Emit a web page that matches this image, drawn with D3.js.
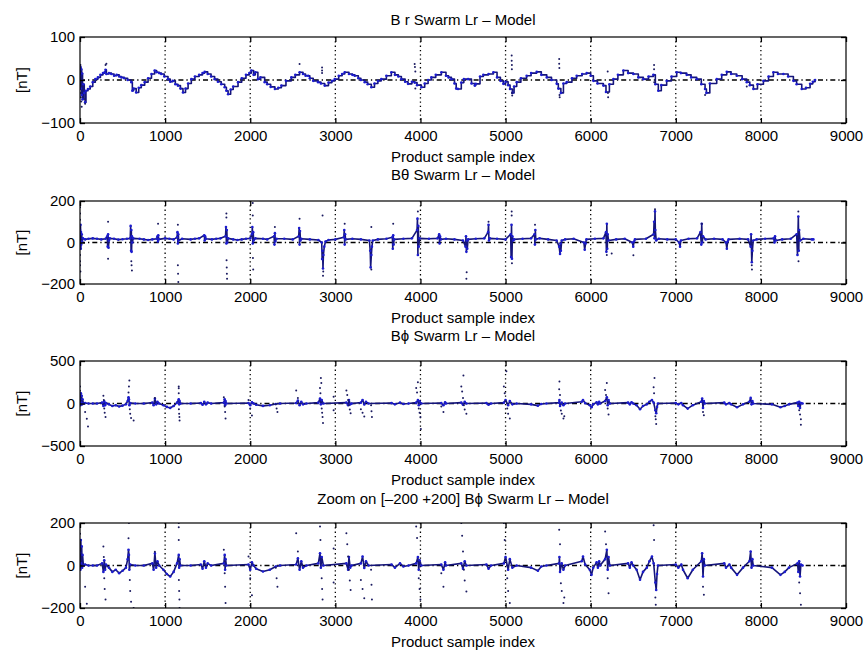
<!DOCTYPE html>
<html>
<head>
<meta charset="utf-8">
<script src="https://cdn.jsdelivr.net/npm/d3@7"></script>
<style>
  body { margin: 0; background: #fff; }
  svg { display: block; }
  text { font-family: "Liberation Sans", Arial, sans-serif; fill: #000; }
</style>
</head>
<body>
<svg id="fig" width="868" height="657"></svg>
<script>
// --- Data ---

const xTicks = [0, 1000, 2000, 3000, 4000, 5000, 6000, 7000, 8000, 9000];
const titles = [
    "B r Swarm Lr \u2013 Model",
    "B\u03b8 Swarm Lr \u2013 Model",
    "B\u03d5 Swarm Lr \u2013 Model",
    "Zoom on [\u2013200 +200] B\u03d5 Swarm Lr \u2013 Model"
];
const xLabel = "Product sample index";
const yLabel = "[nT]";
const brTicks = [-100, 0, 100];
const btTicks = [-200, 0, 200];
const bpTicks = [-500, 0, 500];
const zoomTicks = [-200, 0, 200];

// B r residual: [sample index, nT]
const brTrace = [[0,10],[5,30],[10,-20],[15,25],[20,-35],[25,15],[30,-45],[40,-10],[50,-30],[60,-52],[70,-25],[94,-21],
  [120,-15],[150,-5],[180,2],[210,6],[240,12],[270,16],[290,18],[300,24],[310,14],[340,16],[368,14],[400,10],[430,12],
  [460,8],[486,6],[520,4],[560,0],[603,-5],[615,-25],[630,-20],[660,-29],[690,-18],[720,-12],[760,-5],[800,4],[840,14],
  [877,22],[900,18],[930,16],[955,14],[990,8],[1034,2],[1060,-4],[1090,-2],[1120,-10],[1150,-13],[1180,-20],[1210,-29],
  [1240,-20],[1270,-8],[1308,2],[1350,8],[1400,12],[1440,16],[1465,19],[1500,14],[1540,8],[1582,2],[1620,-4],[1660,-10],
  [1700,-17],[1720,-25],[1740,-33],[1770,-22],[1800,-15],[1857,-5],[1900,4],[1950,12],[1990,16],[2013,22],[2040,12],
  [2060,18],[2090,2],[2120,6],[2170,-5],[2200,-10],[2240,-16],[2290,-21],[2330,-18],[2366,-13],[2420,-2],[2483,6],
  [2530,12],[2580,18],[2620,14],[2650,10],[2680,10],[2700,4],[2740,-2],[2797,-5],[2830,-8],[2875,-13],[2920,-6],[2960,-2],
  [2993,2],[3040,10],[3080,14],[3110,18],[3160,14],[3200,12],[3228,10],[3270,4],[3300,0],[3345,-5],[3380,-10],[3423,-17],
  [3460,-8],[3500,-2],[3540,2],[3600,10],[3658,18],[3700,12],[3740,8],[3776,2],[3820,-4],[3854,-9],[3900,-4],[3932,-6],
  [3960,-12],[4011,-17],[4050,-8],[4090,0],[4128,6],[4180,12],[4246,18],[4300,10],[4330,6],[4364,2],[4400,-8],[4420,-20],
  [4442,-21],[4480,-6],[4510,2],[4560,2],[4600,-8],[4638,-13],[4650,-9],[4700,8],[4739,12],[4800,14],[4857,18],[4900,6],
  [4940,-2],[4974,-9],[5000,-4],[5030,-12],[5053,-21],[5080,-30],[5100,-15],[5131,-5],[5180,4],[5248,10],[5300,16],
  [5366,19],[5420,12],[5484,6],[5540,0],[5601,-9],[5620,-20],[5650,-30],[5680,-8],[5718,-5],[5780,4],[5836,10],[5900,14],
  [5953,16],[6000,10],[6032,-2],[6080,-8],[6149,-13],[6180,-28],[6220,-10],[6267,2],[6320,12],[6384,22],[6440,16],
  [6502,14],[6560,6],[6619,2],[6680,8],[6737,12],[6760,-10],[6795,-25],[6830,-12],[6893,-2],[6950,8],[7011,18],[7060,16],
  [7128,12],[7180,6],[7246,2],[7300,-10],[7344,-21],[7360,-30],[7400,-8],[7481,2],[7540,12],[7599,19],[7650,14],[7716,10],
  [7780,2],[7834,-5],[7870,-12],[7912,-21],[7960,-10],[8030,-2],[8090,8],[8147,18],[8200,14],[8264,14],[8320,8],[8382,-2],
  [8420,-10],[8480,-21],[8530,-18],[8578,-9],[8610,-4],[8637,0]];
const brDots = [[0,30],[0,15],[0,-10],[0,-30],[5,35],[10,-40],[15,-50],[20,-62],[60,-45],[60,-55],[300,35],[310,38],
  [2580,37],[2844,29],[2844,22],[2844,16],[3932,37],[3935,30],[3940,20],[3940,-20],[5072,57],[5072,45],[5074,35],
  [5074,25],[5076,-30],[5078,-36],[5630,49],[5630,38],[5632,28],[5634,-35],[5636,-40],[6200,20],[6203,-30],[6205,-40],
  [6745,35],[6745,25],[6747,-5],[7344,-35],[7834,-15]];

// B theta residual
const btTrace = [[0,60],[3,-20],[6,85],[9,-30],[12,50],[15,-10],[20,40],[25,5],[35,20],[60,15],[100,18],[150,20],[200,18],
  [250,15],[300,18],[320,30],[325,-20],[330,40],[335,-25],[340,10],[350,20],[400,18],[450,14],[500,16],[550,18],[590,20],
  [595,80],[600,-40],[603,60],[606,-45],[610,30],[615,0],[625,20],[700,18],[750,15],[800,12],[850,15],[900,18],[910,30],
  [915,5],[920,35],[925,15],[1000,20],[1050,18],[1100,15],[1140,25],[1145,50],[1150,-5],[1155,40],[1160,10],[1200,18],
  [1300,15],[1350,18],[1400,20],[1460,35],[1465,10],[1470,30],[1480,18],[1550,15],[1600,18],[1650,20],[1710,30],[1715,75],
  [1720,-5],[1725,60],[1730,0],[1740,20],[1800,15],[1850,12],[1900,15],[1950,18],[2000,20],[2020,40],[2025,75],[2030,-5],
  [2035,50],[2040,10],[2060,20],[2150,18],[2200,15],[2280,30],[2285,-10],[2290,45],[2295,5],[2310,18],[2400,18],[2500,15],
  [2570,30],[2575,70],[2580,-10],[2585,55],[2590,10],[2600,18],[2700,15],[2800,12],[2840,0],[2845,-80],[2850,-40],
  [2855,-125],[2860,-60],[2870,-20],[2885,5],[2920,12],[3000,15],[3100,25],[3105,60],[3110,-10],[3115,40],[3120,15],
  [3200,18],[3300,15],[3400,10],[3410,-40],[3415,-120],[3423,-60],[3430,-20],[3440,10],[3500,15],[3600,18],[3670,25],
  [3675,-30],[3680,35],[3685,-10],[3690,15],[3800,18],[3900,20],[3960,60],[3965,115],[3970,-60],[3975,80],[3980,-20],
  [3990,20],[4100,18],[4200,20],[4220,40],[4225,-5],[4230,30],[4240,15],[4300,18],[4400,15],[4500,10],[4530,-20],
  [4535,30],[4540,-45],[4545,10],[4550,-30],[4560,15],[4650,18],[4750,20],[4795,50],[4800,85],[4805,10],[4815,20],
  [4900,18],[5000,15],[5060,40],[5065,-70],[5070,85],[5075,-78],[5080,30],[5090,10],[5100,15],[5200,18],[5300,20],
  [5340,40],[5345,-10],[5350,60],[5355,15],[5400,20],[5500,15],[5600,10],[5630,-20],[5640,-55],[5645,-5],[5650,-40],
  [5660,10],[5700,15],[5800,18],[5920,0],[5930,-35],[5940,-5],[5950,15],[6050,18],[6150,20],[6180,50],[6185,-45],
  [6190,90],[6195,-30],[6200,40],[6210,10],[6300,15],[6400,18],[6490,0],[6500,-20],[6510,5],[6520,15],[6650,18],
  [6740,40],[6745,100],[6750,20],[6756,150],[6760,60],[6770,10],[6800,18],[6900,15],[7000,15],[7040,0],[7050,-20],
  [7060,10],[7150,18],[7250,20],[7290,50],[7300,-10],[7305,90],[7310,0],[7320,30],[7350,15],[7450,18],[7550,15],
  [7590,0],[7600,-30],[7610,5],[7620,15],[7750,18],[7850,15],[7880,-20],[7885,40],[7893,-95],[7900,-40],[7910,10],
  [7950,15],[8050,18],[8150,20],[8160,0],[8166,30],[8175,10],[8250,15],[8350,18],[8420,40],[8430,-60],[8440,125],
  [8445,-40],[8450,60],[8460,10],[8500,18],[8600,15],[8617,15]];
const btDots = [[0,198],[0,170],[0,140],[0,110],[0,-60],[0,-90],[0,-110],[5,-140],[330,100],[330,-78],[603,-90],
  [606,-110],[610,-135],[917,90],[1150,85],[1150,-110],[1152,-150],[1155,-190],[1720,140],[1720,120],[1722,-85],
  [1724,-120],[1726,-150],[1728,-175],[2030,190],[2030,130],[2032,-75],[2035,-130],[2290,75],[2580,115],[2850,130],
  [2855,-160],[2858,-140],[3110,90],[3423,75],[3423,-130],[3680,90],[3970,150],[4540,-175],[4543,-143],[4800,100],
  [5072,150],[5072,130],[5075,-100],[5346,85],[6190,-60],[6247,-53],[6502,-62],[6756,160],[7305,90],[7893,-110],
  [7895,-130],[8440,150],[8442,-90]];

// B phi residual (same series in the last two panels)
const bpTrace = [[0,60],[5,-20],[10,120],[15,10],[20,90],[25,-10],[30,50],[40,0],[60,5],[100,0],[150,0],[200,0],[260,10],
  [275,-30],[285,25],[295,-20],[305,5],[340,-10],[380,-30],[420,-20],[460,-36],[500,-25],[540,-10],[560,30],[570,74],
  [575,50],[580,-20],[590,5],[650,0],[750,0],[850,10],[865,-20],[880,57],[895,-10],[910,20],[930,0],[980,-20],[1020,-40],
  [1060,-52],[1100,-30],[1140,10],[1160,50],[1165,-10],[1170,30],[1180,0],[1300,0],[1420,5],[1440,-15],[1460,20],
  [1480,-10],[1500,10],[1540,0],[1690,10],[1700,50],[1705,-20],[1710,30],[1720,0],[1980,5],[2000,-20],[2020,15],[2040,0],
  [2070,-15],[2150,-28],[2230,-20],[2300,-5],[2350,0],[2540,5],[2560,34],[2580,-20],[2600,20],[2620,-10],[2660,0],
  [2800,10],[2820,58],[2830,-10],[2840,40],[2860,0],[3130,10],[3150,-20],[3160,40],[3175,-10],[3190,0],[3300,10],
  [3320,42],[3340,-12],[3360,20],[3390,0],[3660,5],[3700,-10],[3760,10],[3800,-5],[3860,0],[3950,10],[3970,40],
  [3980,-20],[3990,25],[4010,0],[4245,5],[4270,-20],[4290,15],[4300,0],[4480,10],[4500,-15],[4520,20],[4540,0],[4775,5],
  [4800,-15],[4830,0],[4980,10],[5000,40],[5030,-20],[5050,30],[5080,-10],[5130,0],[5300,-10],[5380,-25],[5420,-5],
  [5480,0],[5630,10],[5633,40],[5640,-30],[5660,10],[5680,-20],[5700,0],[5895,20],[5910,42],[5935,5],[5990,-20],
  [6010,-44],[6030,-10],[6070,15],[6085,-10],[6100,20],[6110,0],[6170,30],[6190,74],[6200,-20],[6210,40],[6225,0],
  [6440,10],[6460,-10],[6480,15],[6500,0],[6540,-20],[6580,-67],[6615,-30],[6660,-10],[6690,20],[6720,42],[6740,10],
  [6760,-80],[6770,-115],[6780,-40],[6790,0],[7000,5],[7030,-10],[7065,5],[7085,-20],[7140,-60],[7200,-20],[7300,20],
  [7310,58],[7320,-52],[7330,30],[7340,0],[7570,10],[7590,-10],[7630,5],[7650,-10],[7720,-44],[7790,-10],[7865,20],
  [7880,66],[7890,-10],[7900,30],[7910,0],[8130,-10],[8230,-44],[8280,-30],[8330,-10],[8430,10],[8440,-30],[8450,20],
  [8460,-52],[8470,5],[8490,0]];
const bpDots = [[0,150],[0,200],[60,-100],[80,-180],[94,-270],[275,90],[280,40],[285,-60],[290,-110],[300,-160],
  [570,128],[575,200],[580,270],[585,-68],[590,-120],[600,-170],[630,-200],[880,65],[1160,120],[1160,200],[1160,180],
  [1162,-68],[1165,-120],[1168,-160],[1170,-200],[1690,74],[1700,-36],[1705,-100],[1710,-177],[1980,42],[2000,-60],
  [2020,-140],[2300,-10],[2310,-60],[2320,-100],[2540,152],[2560,66],[2820,183],[2825,120],[2830,300],[2835,240],
  [2840,-60],[2845,-110],[2850,-160],[2855,-230],[2980,80],[2980,-80],[3130,152],[3140,100],[3150,42],[3160,-20],
  [3170,-70],[3180,-115],[3300,-68],[3320,-110],[3340,-154],[3420,-20],[3425,-90],[3430,-160],[3950,183],[3960,130],
  [3970,250],[3980,-60],[3990,-110],[4000,-160],[4005,-300],[4245,-36],[4270,-100],[4480,200],[4490,140],[4500,66],
  [4505,330],[4510,-20],[4520,-70],[4540,-122],[4980,200],[4990,120],[5000,26],[5010,380],[5020,-60],[5030,-120],
  [5050,-177],[5630,168],[5633,260],[5640,100],[5650,-83],[5660,-120],[5680,-177],[5690,-150],[6170,160],[6180,100],
  [6190,240],[6200,-60],[6210,-130],[6740,190],[6745,120],[6750,300],[6760,-150],[6765,-185],[6770,-240],[7320,-100],
  [7330,-138],[8450,-80],[8460,-130],[8470,-185],[8470,-250]];

// --- Layout ---
const left = 80, right = 846;
const panels = [
    { title: titles[0], trace: brTrace, dots: brDots, ticks: brTicks, top: 37, bottom: 123, titleY: 20, step: true },
    { title: titles[1], trace: btTrace, dots: btDots, ticks: btTicks, top: 201, bottom: 284, titleY: 175, step: false },
    { title: titles[2], trace: bpTrace, dots: bpDots, ticks: bpTicks, top: 361, bottom: 446, titleY: 336, step: false },
    { title: titles[3], trace: bpTrace, dots: bpDots, ticks: zoomTicks, top: 523, bottom: 608, titleY: 499, step: false }
];

const svg = d3.select("#fig");
const fontSize = 15;

var xScale = d3.scaleLinear().domain([0, 9000]).range([left, right]);

panels.forEach(function (p, i) {
    var yScale = d3.scaleLinear()
        .domain([p.ticks[0], p.ticks[p.ticks.length - 1]])
        .range([p.bottom, p.top]);

    var g = svg.append("g");

    // clip data to the axes box
    svg.append("clipPath").attr("id", "clip" + i)
        .append("rect")
        .attr("x", left).attr("y", p.top)
        .attr("width", right - left).attr("height", p.bottom - p.top);

    // grid lines
    g.append("g").selectAll("line")
        .data(xTicks.slice(1, -1))
        .enter().append("line")
        .attr("x1", function (d) { return xScale(d); })
        .attr("x2", function (d) { return xScale(d); })
        .attr("y1", p.top).attr("y2", p.bottom)
        .attr("stroke", "#000").attr("stroke-width", 1.3)
        .attr("stroke-dasharray", "1.3,3");
    g.append("line")
        .attr("x1", left).attr("x2", right)
        .attr("y1", yScale(0)).attr("y2", yScale(0))
        .attr("stroke", "#000").attr("stroke-width", 1.3)
        .attr("stroke-dasharray", "5,3,1.3,3");

    var plot = g.append("g").attr("clip-path", "url(#clip" + i + ")");

    // B r looks like a staircase; the others are plain lines
    var line = d3.line()
        .curve(p.step ? d3.curveStepAfter : d3.curveLinear)
        .x(function (d) { return xScale(d[0]); })
        .y(function (d) { return yScale(d[1]); });

    plot.append("path")
        .datum(p.trace)
        .attr("d", line)
        .attr("fill", "none")
        .attr("stroke", "#15157a")
        .attr("stroke-width", 1.6)
        .attr("stroke-linejoin", "round");

    plot.selectAll("circle.pt")
        .data(p.trace)
        .enter().append("circle")
        .attr("class", "pt")
        .attr("cx", function (d) { return xScale(d[0]); })
        .attr("cy", function (d) { return yScale(d[1]); })
        .attr("r", 1.3)
        .attr("fill", "#1c1cd0");

    plot.selectAll("circle.dot")
        .data(p.dots)
        .enter().append("circle")
        .attr("class", "dot")
        .attr("cx", function (d) { return xScale(d[0]); })
        .attr("cy", function (d) { return yScale(d[1]); })
        .attr("r", 1)
        .attr("fill", "#1a1a60");

    // axes box
    g.append("rect")
        .attr("x", left).attr("y", p.top)
        .attr("width", right - left).attr("height", p.bottom - p.top)
        .attr("fill", "none").attr("stroke", "#000").attr("stroke-width", 1.2);

    // ticks (inward) and labels
    g.append("g").attr("transform", "translate(0," + p.bottom + ")")
        .call(d3.axisBottom(xScale).tickValues(xTicks).tickFormat(d3.format("d"))
            .tickSize(-5).tickSizeOuter(0).tickPadding(7));
    g.append("g").attr("transform", "translate(0," + p.top + ")")
        .call(d3.axisTop(xScale).tickValues(xTicks).tickSize(-5).tickSizeOuter(0).tickFormat(""));
    g.append("g").attr("transform", "translate(" + left + ",0)")
        .call(d3.axisLeft(yScale).tickValues(p.ticks).tickFormat(d3.format("d"))
            .tickSize(-5).tickSizeOuter(0).tickPadding(5));
    g.append("g").attr("transform", "translate(" + right + ",0)")
        .call(d3.axisRight(yScale).tickValues(p.ticks).tickSize(-5).tickSizeOuter(0).tickFormat(""));

    g.selectAll(".domain").remove();
    g.selectAll(".tick line").attr("stroke", "#000").attr("stroke-width", 1.3);
    g.selectAll(".tick text")
        .attr("font-family", "'Liberation Sans', Arial, sans-serif")
        .attr("font-size", fontSize)
        .attr("fill", "#000");

    // title, x label, y label
    g.append("text")
        .attr("x", (left + right) / 2).attr("y", p.titleY + 5)
        .attr("text-anchor", "middle").attr("font-size", fontSize)
        .text(p.title);
    g.append("text")
        .attr("x", (left + right) / 2).attr("y", p.bottom + 39)
        .attr("text-anchor", "middle").attr("font-size", fontSize)
        .text(xLabel);
    g.append("text")
        .attr("transform", "translate(27," + (p.top + p.bottom) / 2 + ") rotate(-90)")
        .attr("text-anchor", "middle").attr("font-size", fontSize)
        .text(yLabel);
});
</script>
</body>
</html>
